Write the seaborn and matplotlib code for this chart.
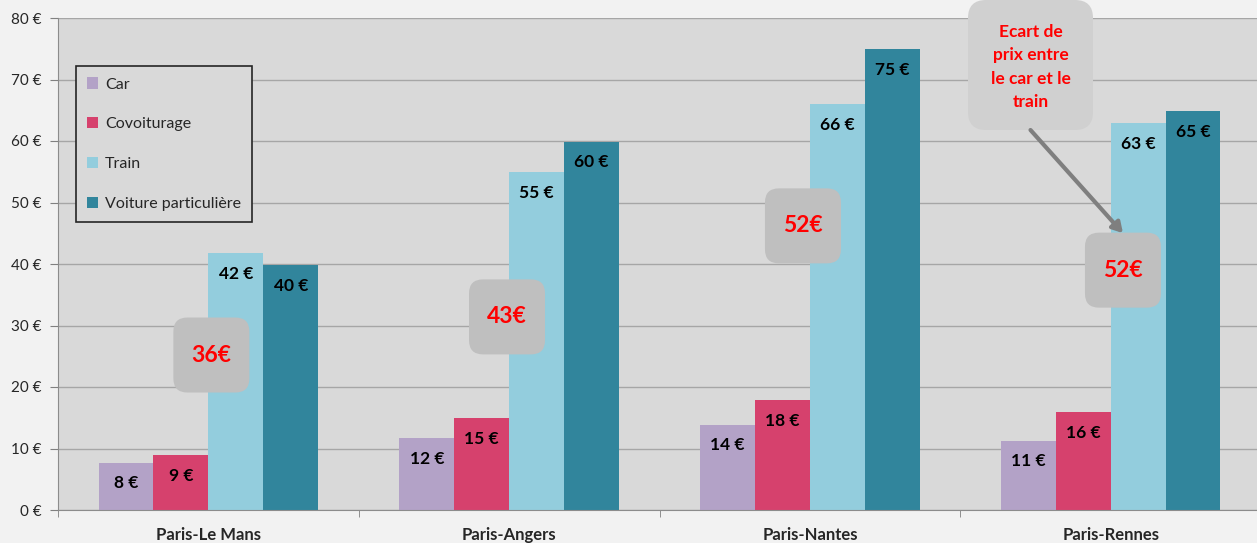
import pandas as pd
import matplotlib.pyplot as plt
import seaborn as sns
from matplotlib.patches import FancyBboxPatch

# Données
trajets = ["Paris-Le Mans", "Paris-Angers", "Paris-Nantes", "Paris-Rennes"]
modes = ["Car", "Covoiturage", "Train", "Voiture particulière"]
prix_car = [7.7, 11.7, 13.9, 11.3]
prix_covoit = [8.9, 14.9, 17.9, 15.9]
prix_train = [41.8, 55.0, 66.0, 62.9]
prix_voiture = [39.8, 59.9, 74.9, 64.9]
ecarts = ["36€", "43€", "52€", "52€"]
ecart_decal_x = [0.01, -0.007, -0.023, 0.041]
ecart_pos_y = [25.2, 31.4, 46.2, 39.0]
yticks = [0, 10, 20, 30, 40, 50, 60, 70, 80]

couleurs = ["#b3a2c7", "#d6416d", "#93cddd", "#31859c"]

rows = []
for m, vals in zip(modes, [prix_car, prix_covoit, prix_train, prix_voiture]):
    for t, v in zip(trajets, vals):
        rows.append({"trajet": t, "mode": m, "prix": v})
df = pd.DataFrame(rows)

sns.set_style("white")
plt.rcParams["font.family"] = ["Lato", "DejaVu Sans"]

fig = plt.figure(figsize=(12.57, 5.43), dpi=100, facecolor="#f2f2f2")
ax = fig.add_axes([58 / 1257, 33 / 543, 1203 / 1257, 492 / 543])
ax.set_facecolor("#d9d9d9")

sns.barplot(data=df, x="trajet", y="prix", hue="mode", order=trajets, hue_order=modes,
            palette=couleurs, width=0.73, saturation=1, linewidth=0, ax=ax, zorder=2)

ax.set_xlim(-0.5, 3.5)
ax.set_ylim(0, 80)
ax.set_yticks(yticks)
ax.set_yticklabels([f"{v} €" for v in yticks], fontsize=11)
ax.grid(axis="y", color="#a6a6a6", linewidth=1, zorder=0)
ax.set_axisbelow(True)
ax.set_xlabel("")
ax.set_ylabel("")
ax.tick_params(axis="y", length=6, color="#808080", direction="out", pad=6, left=True)
ax.tick_params(axis="x", length=0, pad=12)
for lab in ax.get_xticklabels():
    lab.set_fontweight("bold")
    lab.set_fontsize(12)
ax.set_xticks([-0.5, 0.5, 1.5, 2.5, 3.5], minor=True)
ax.tick_params(axis="x", which="minor", length=5, color="#808080", direction="out", bottom=True)
for s in ["top", "right"]:
    ax.spines[s].set_visible(False)
for s in ["left", "bottom"]:
    ax.spines[s].set_color("#8c8c8c")

# étiquettes de valeurs
for cont in ax.containers:
    for bar in cont:
        h = bar.get_height()
        ax.annotate(f"{round(h)} €", (bar.get_x() + bar.get_width() / 2, h),
                    xytext=(0, -15), textcoords="offset points", ha="center", va="center",
                    fontsize=12.5, fontweight="bold", color="black", zorder=5)

# légende
handles, labels = ax.get_legend_handles_labels()
leg = ax.legend(handles, labels, loc="upper left", bbox_to_anchor=(0.015, 0.902),
                borderaxespad=0, fontsize=11.5, handlelength=0.7, handleheight=0.7,
                handletextpad=0.4, labelspacing=1.6, borderpad=0.7, fancybox=False,
                framealpha=1, facecolor="#d9d9d9", edgecolor="#262626", title=None)
leg.get_frame().set_linewidth(1.2)
leg.set_zorder(10)

# bulles d'écart
fig.canvas.draw()
p0 = ax.transData.transform((0, 0))
p1 = ax.transData.transform((1, 1))
px_x = p1[0] - p0[0]
px_y = p1[1] - p0[1]
asp = px_x / px_y


def bulle(cx, cy, w_px, h_px, color, r_px=14):
    w = w_px / px_x
    h = h_px / px_y
    patch = FancyBboxPatch((cx - w / 2, cy - h / 2), w, h,
                           boxstyle=f"round,pad=0,rounding_size={r_px / px_x}",
                           mutation_aspect=asp, facecolor=color, edgecolor="none",
                           zorder=6, clip_on=False)
    ax.add_patch(patch)


for i, (txt, dx, y) in enumerate(zip(ecarts, ecart_decal_x, ecart_pos_y)):
    bulle(i + dx, y, 76, 75, "#bfbfbf")
    ax.text(i + dx, y, txt, ha="center", va="center", color="#ff0000", fontsize=16.5,
            fontweight="bold", zorder=7)

# bulle explicative
cx = (968 + 1093) / 2
cx = (cx - 58) / px_x - 0.5
cy = (510 - 65) / px_y
bulle(cx, cy, 125, 130, "#d0d0d0", r_px=18)
ax.text(cx, (510 - 67) / px_y, "Ecart de\nprix entre\nle car et le\ntrain", ha="center",
        va="center", color="#ff0000", fontsize=12.5, fontweight="bold", linespacing=1.55,
        zorder=7)
ax.annotate("", xy=(3 + ecart_decal_x[3], ecart_pos_y[3] + 37 / px_y),
            xytext=(cx, (510 - 130) / px_y),
            arrowprops=dict(arrowstyle="-|>,head_length=0.6,head_width=0.35", color="#7f7f7f",
                            lw=3, shrinkA=0, shrinkB=0), zorder=8, annotation_clip=False)

plt.savefig("out.png", dpi=100, facecolor=fig.get_facecolor())
